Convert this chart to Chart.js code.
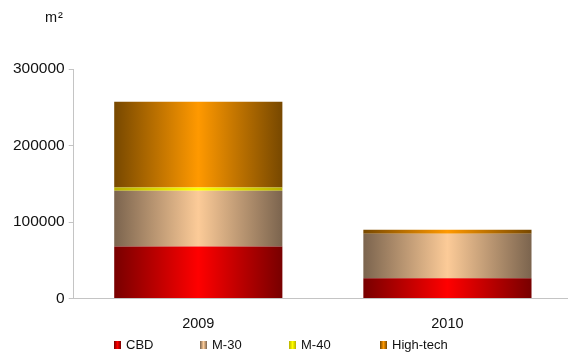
<!DOCTYPE html>
<html>
<head>
<meta charset="utf-8">
<script src="https://cdn.jsdelivr.net/npm/chart.js@4/dist/chart.umd.min.js"></script>
<style>
    html, body { margin: 0; padding: 0; background: #fff; }
    #wrap { position: relative; width: 568px; height: 352px; font-family: "Liberation Sans", Arial, sans-serif; color: #111; }
    #unit { position: absolute; left: 45px; top: 9px; font-size: 14.5px; letter-spacing: 1px; }
    #legend { position: absolute; top: 337px; left: 0; width: 568px; height: 16px; font-size: 13px; }
    #legend span.item { position: absolute; top: 0; white-space: nowrap; line-height: 15px; }
    #legend i { display: inline-block; width: 7px; height: 8px; margin-right: 5px; }
    canvas { display: block; }
</style>
</head>
<body>
<div id="wrap">
    <canvas id="chart" width="568" height="352"></canvas>
    <div id="unit">m²</div>
    <div id="legend"></div>
</div>
<script>
// Data
const years = ['2009', '2010'];
const cbd = [68000, 26500];
const m30 = [73000, 58300];
const m40 = [4300, 0];
const highTech = [112000, 5200];
const yTicks = [0, 100000, 200000, 300000];

const BAR_PCT = 0.675;
const FONT = '"Liberation Sans", Arial, sans-serif';

// Horizontal "cylinder" gradient across each bar: dark edges, bright middle
function barGradient(edge, mid) {
    return function(ctx) {
        const chart = ctx.chart;
        const xScale = chart.scales.x;
        if (!chart.chartArea || !xScale) return mid;
        const c = xScale.getPixelForValue(ctx.dataIndex);
        const half = (xScale.width / chart.data.labels.length) * BAR_PCT / 2;
        const g = chart.ctx.createLinearGradient(c - half, 0, c + half, 0);
        g.addColorStop(0, edge);
        g.addColorStop(0.5, mid);
        g.addColorStop(1, edge);
        return g;
    };
}

const series = [
    { label: 'CBD', data: cbd, edge: '#780000', mid: '#ff0000', x: 114 },
    { label: 'M-30', data: m30, edge: '#7b644e', mid: '#fccb98', x: 200 },
    { label: 'M-40', data: m40, edge: '#b8b000', mid: '#ffff00', x: 289 },
    { label: 'High-tech', data: highTech, edge: '#774800', mid: '#ff9900', x: 380 }
];

// Legend below the chart
const legend = document.getElementById('legend');
series.forEach(s => {
    const item = document.createElement('span');
    item.className = 'item';
    item.style.left = s.x + 'px';
    item.innerHTML = `<i style="background: linear-gradient(to right, ${s.edge}, ${s.mid}, ${s.edge})"></i>${s.label}`;
    legend.appendChild(item);
});

// The original plot runs a few pixels past the right edge of the picture
const stretchX = {
    id: 'stretchX',
    afterLayout(chart) {
        const x = chart.scales.x;
        x.right += 4;
        x.width += 4;
        x.configure();
    }
};

new Chart(document.getElementById('chart'), {
    type: 'bar',
    data: {
        labels: years,
        datasets: series.map(s => ({
            label: s.label,
            data: s.data,
            backgroundColor: barGradient(s.edge, s.mid),
            borderWidth: 0,
            barPercentage: BAR_PCT,
            categoryPercentage: 1
        }))
    },
    options: {
        responsive: false,
        animation: false,
        layout: { padding: { top: 69, left: 9, right: 0, bottom: 10 } },
        plugins: {
            tooltip: { enabled: false },
            legend: { display: false }
        },
        scales: {
            x: {
                stacked: true,
                grid: { display: false },
                border: { color: '#c4c4c4', width: 1 },
                ticks: { color: '#111', font: { family: FONT, size: 14.5 }, padding: 9 }
            },
            y: {
                stacked: true,
                min: 0,
                max: 300000,
                afterBuildTicks: axis => { axis.ticks = yTicks.map(v => ({ value: v })); },
                grid: { drawOnChartArea: false, drawTicks: true, tickLength: 5, color: '#c4c4c4' },
                border: { color: '#c4c4c4', width: 1 },
                ticks: { color: '#111', font: { family: FONT, size: 15.5 }, padding: 4, callback: v => String(v) }
            }
        }
    },
    plugins: [stretchX]
});
</script>
</body>
</html>
